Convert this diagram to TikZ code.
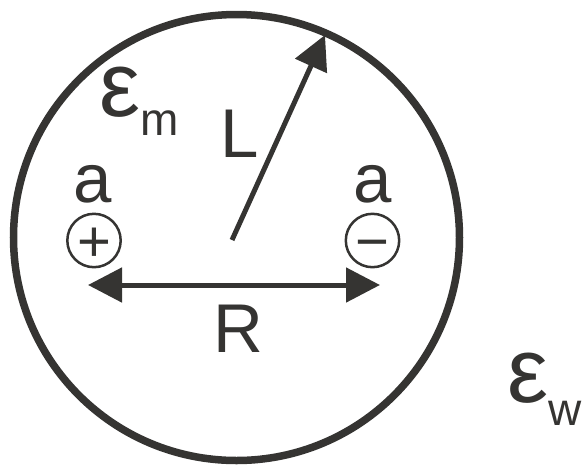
\documentclass[tikz,border=0pt]{standalone}
\usepackage{fontspec}
\setmainfont{Liberation Sans}
\usetikzlibrary{arrows.meta}
\definecolor{ink}{HTML}{353432}

\begin{document}
\begin{tikzpicture}[
    x=1pt, y=-1pt, % work in pixels, y downwards
    >={Triangle[length=34pt, width=34pt]}, % Big filled arrow heads
    charge/.style={draw=ink, text=ink, line width=2.5pt, circle, minimum size=52pt, inner sep=0pt, text height=41.5pt, text depth=0pt, font=\fontsize{58}{58}\selectfont}, % Style for ions
    lbl/.style={text=ink, inner sep=0pt, font=\fontsize{69}{69}\selectfont}, % Style for letters
    eps/.style={text=ink, inner sep=0pt, font=\fontsize{92}{92}\selectfont}
]
\useasboundingbox (0,0) rectangle (584,467);

% Define coordinates
\coordinate (centre) at (236.5,237.5);
\coordinate (tail) at (232,240);
\coordinate (rim) at (325,35); % Point on the sphere
\coordinate (rleft) at (88,285);
\coordinate (rright) at (380,285);

% Sphere radius
\def\rad{223}

% Draw the sphere
\draw[ink, line width=7.5pt] (centre) circle [radius=\rad];

% Radius arrow
\draw[->, ink, line width=5pt] (tail) -- (rim);

% Ions
\node[charge] (plus) at (94,240.5) {+};
\node[charge] (minus) at (372.5,240.5) {−};

% Distance between ions
\draw[<->, ink, line width=5pt] (rleft) -- (rright);

% Labels
\node[lbl, anchor=base] (aplus) at (93,202) {a};
\node[lbl, anchor=base] (aminus) at (372.5,202) {a};
\node[lbl, anchor=base] (len) at (240,157) {L};
\node[lbl, anchor=base] (dist) at (238,352) {R};
\node[eps, anchor=base west] (epsm) at (99,116) {ε\raisebox{-19pt}{\fontsize{46}{46}\selectfont m}};
\node[eps, anchor=base west] (epsw) at (507,402) {ε\raisebox{-23pt}{\fontsize{46}{46}\selectfont w}};

\end{tikzpicture}
\end{document}
